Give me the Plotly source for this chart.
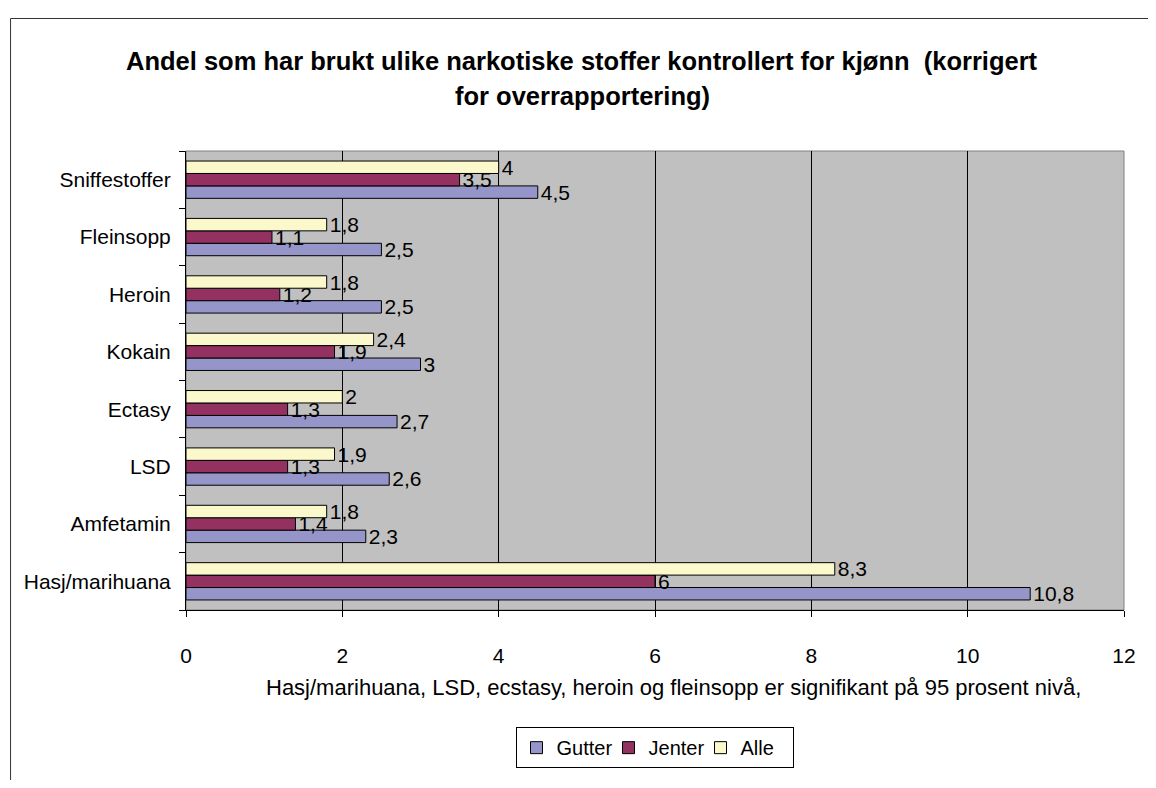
import plotly.graph_objects as go

# categories, bottom to top as drawn
categories = ["Hasj/marihuana", "Amfetamin", "LSD", "Ectasy", "Kokain",
              "Heroin", "Fleinsopp", "Sniffestoffer"]
gutter = [10.8, 2.3, 2.6, 2.7, 3.0, 2.5, 2.5, 4.5]
jenter = [6.0, 1.4, 1.3, 1.3, 1.9, 1.2, 1.1, 3.5]
alle = [8.3, 1.8, 1.9, 2.0, 2.4, 1.8, 1.8, 4.0]

series = [("Gutter", gutter, "#9595CA"),
          ("Jenter", jenter, "#933260"),
          ("Alle", alle, "#FBF8CC")]

title_lines = ["Andel som har brukt ulike narkotiske stoffer kontrollert for kjønn  (korrigert",
               "for overrapportering)"]
note = "Hasj/marihuana, LSD, ecstasy, heroin og fleinsopp er signifikant på 95 prosent nivå,"

FONT = "Liberation Sans, Arial, sans-serif"


def fmt(v):
    # norwegian decimal comma
    return f"{v:g}".replace(".", ",")


fig = go.Figure()
for name, vals, col in series:
    fig.add_bar(
        y=categories, x=vals, name=name, orientation="h",
        marker=dict(color=col, line=dict(color="black", width=1)),
        text=[fmt(v) for v in vals], textposition="outside",
        constraintext="none", cliponaxis=False,
        textfont=dict(family=FONT, size=21, color="black"),
    )

# page has an 8px body margin, so figure coords = page coords - 8
FW, FH = 1140, 772
OFF = 8
L, R, T, B = 186 - OFF, 1135 - OFF, 151 - OFF, 629 - OFF
W, H = R - L, B - T


def px(x):
    return (x - OFF - L) / W


def py(y):
    return (B - (y - OFF)) / H


fig.update_layout(
    width=FW, height=FH,
    margin=dict(l=L, r=FW - R, t=T, b=FH - B),
    paper_bgcolor="white", plot_bgcolor="#C0C0C0",
    font=dict(family=FONT, size=20, color="black"),
    barmode="group", bargap=0.35, bargroupgap=0,
    showlegend=True,
    legend=dict(orientation="h", traceorder="normal",
                x=px(660), xanchor="center", y=py(751), yanchor="top",
                bordercolor="black", borderwidth=1, bgcolor="white",
                font=dict(size=20), itemwidth=30, entrywidth=47,
                tracegroupgap=0),
    xaxis=dict(range=[0, 12], dtick=2, showgrid=True, gridcolor="black",
               gridwidth=1, zeroline=False, showline=True, linecolor="black",
               ticks="outside", ticklen=6, tickcolor="black",
               ticklabelstandoff=21, tickfont=dict(size=21)),
    yaxis=dict(showgrid=False, showline=True, linecolor="black",
               ticks="outside", ticklen=6, tickcolor="black",
               tickson="boundaries", ticklabelstandoff=10,
               tickfont=dict(size=21)),
    shapes=[
        # grey frame of the plot area
        dict(type="rect", xref="paper", yref="paper", x0=0, x1=1, y0=0, y1=1,
             line=dict(color="#808080", width=1), layer="below"),
        # outer chart border
        dict(type="rect", xref="paper", yref="paper",
             x0=px(8.5), x1=px(1200), y0=py(820), y1=py(13),
             line=dict(color="#333333", width=1)),
    ],
)

fig.add_annotation(text=f"<b>{title_lines[0]}</b>", xref="paper", yref="paper",
                   x=px(587), y=py(57), xanchor="center", yanchor="middle",
                   showarrow=False, font=dict(size=25.5))
fig.add_annotation(text=f"<b>{title_lines[1]}</b>", xref="paper", yref="paper",
                   x=px(587), y=py(94), xanchor="center", yanchor="middle",
                   showarrow=False, font=dict(size=25.5))
fig.add_annotation(text=note, xref="paper", yref="paper",
                   x=px(679), y=py(710), xanchor="center", yanchor="middle",
                   showarrow=False, font=dict(size=22))

fig.write_html("out.html")
